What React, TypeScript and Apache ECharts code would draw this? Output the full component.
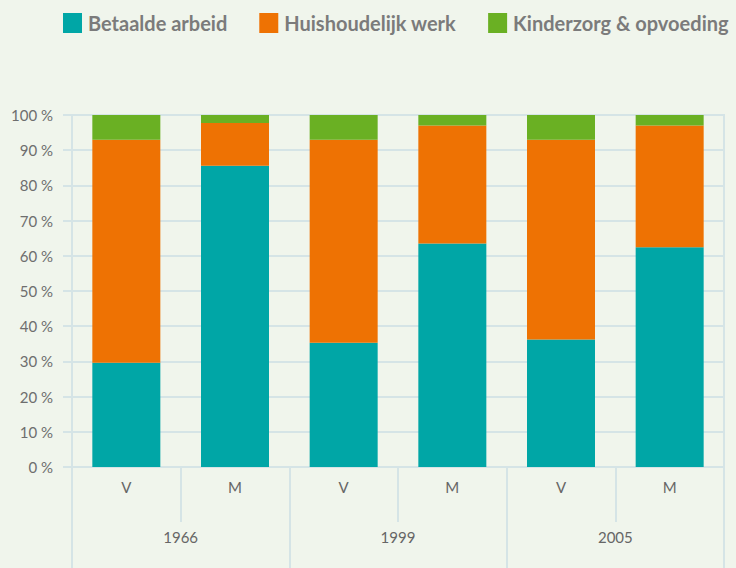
import React, { useEffect, useRef } from "react";
import * as echarts from "echarts";

const years = ["1966", "1999", "2005"];
const sexes = ["V", "M", "V", "M", "V", "M"];
const seriesNames = ["Betaalde arbeid", "Huishoudelijk werk", "Kinderzorg & opvoeding"];
const betaaldeArbeid = [29.6, 85.6, 35.3, 63.5, 36.2, 62.4];
const huishoudelijkWerk = [63.4, 12.1, 57.7, 33.5, 56.8, 34.6];
const kinderzorgOpvoeding = [7.0, 2.3, 7.0, 3.0, 7.0, 3.0];

const colors = ["#00a6a6", "#ee7203", "#6ab023"];
const gridColor = "#d5e4e6";
const bg = "#f0f5ec";
const font = "Lato, 'Open Sans', sans-serif";

export default function App() {
  const ref = useRef<HTMLDivElement>(null);
  useEffect(() => {
    document.body.style.margin = "0";
    document.body.style.background = bg;
    const chart = echarts.init(ref.current!, null, { renderer: "svg" });
    const values = [betaaldeArbeid, huishoudelijkWerk, kinderzorgOpvoeding];
    chart.setOption({
      animation: false,
      backgroundColor: bg,
      textStyle: { fontFamily: font },
      legend: {
        left: 63,
        top: 13,
        width: 1200,
        padding: 0,
        itemWidth: 19,
        itemHeight: 20,
        itemGap: 32,
        icon: "rect",
        selectedMode: false,
        data: seriesNames,
        textStyle: {
          fontFamily: font,
          fontWeight: "bold",
          fontSize: 20,
          color: "#7b7b7b",
          padding: [0, 0, 0, 1],
        },
      },
      grid: {
        left: 72,
        right: 12,
        top: 115,
        bottom: 101,
        show: true,
        borderColor: gridColor,
        borderWidth: 2,
        backgroundColor: "transparent",
      },
      xAxis: [
        {
          type: "category",
          data: sexes,
          position: "bottom",
          axisLine: { show: true, lineStyle: { color: gridColor, width: 2 } },
          axisTick: { show: true, length: 55, lineStyle: { color: gridColor, width: 2 } },
          axisLabel: { margin: 12, fontSize: 15, color: "#666", fontFamily: font },
          splitLine: { show: false },
        },
        {
          type: "category",
          data: years,
          position: "bottom",
          axisLine: { show: false },
          axisTick: { show: true, length: 101, lineStyle: { color: gridColor, width: 2 } },
          axisLabel: { margin: 62, fontSize: 15, color: "#666", fontFamily: font },
          splitLine: { show: false },
        },
      ],
      yAxis: {
        type: "value",
        min: 0,
        max: 100,
        interval: 10,
        axisLine: { show: true, lineStyle: { color: gridColor, width: 2 } },
        axisTick: { show: true, length: 9, lineStyle: { color: gridColor, width: 2 } },
        axisLabel: { formatter: "{value} %", margin: 19, fontSize: 15, color: "#6e6e6e", fontFamily: font },
        splitLine: { show: true, lineStyle: { color: gridColor, width: 2 } },
      },
      series: seriesNames.map((name, i) => ({
        name,
        type: "bar",
        stack: "total",
        xAxisIndex: 0,
        barWidth: 68,
        itemStyle: { color: colors[i] },
        data: values[i],
      })),
    });
    return () => chart.dispose();
  }, []);
  return <div ref={ref} style={{ width: 736, height: 568 }} />;
}
